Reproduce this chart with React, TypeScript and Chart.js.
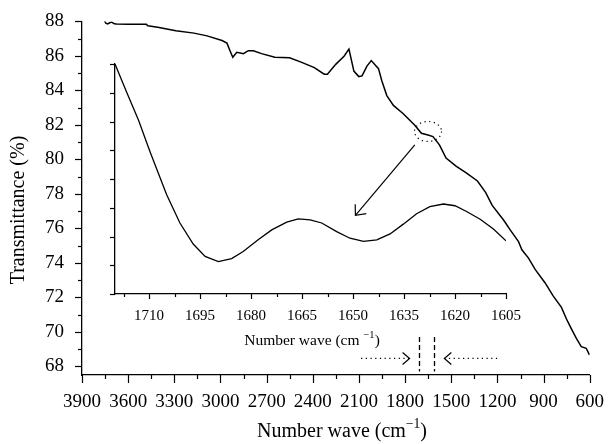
import React, { useEffect, useRef } from 'react';
import { Chart, registerables } from 'chart.js';

Chart.register(...registerables);

// Main FTIR spectrum (wave number cm^-1, transmittance %)
const WAVE = [3755, 3745, 3733, 3720, 3707, 3690, 3675, 3600, 3482, 3472, 3408, 3290, 3172, 3087, 2990, 2958, 2936, 2920, 2894, 2872, 2851, 2819, 2786, 2733, 2647, 2551, 2476, 2390, 2326, 2305, 2251, 2197, 2165, 2133, 2101, 2080, 2048, 2020, 1973, 1951, 1919, 1876, 1812, 1737, 1694, 1651, 1619, 1577, 1534, 1469, 1405, 1330, 1277, 1234, 1159, 1116, 1063, 1041, 998, 955, 891, 838, 784, 752, 720, 687, 655, 623, 602];
const TRANS = [88.05, 87.9, 87.85, 87.92, 87.96, 87.86, 87.85, 87.84, 87.83, 87.75, 87.66, 87.46, 87.32, 87.16, 86.89, 86.74, 86.26, 85.92, 86.21, 86.17, 86.13, 86.3, 86.3, 86.13, 85.92, 85.89, 85.64, 85.32, 84.94, 84.94, 85.51, 85.98, 86.4, 85.12, 84.8, 84.84, 85.41, 85.73, 85.26, 84.55, 83.7, 83.13, 82.65, 81.98, 81.51, 81.41, 81.32, 80.84, 80.08, 79.61, 79.23, 78.75, 78.09, 77.33, 76.47, 75.9, 75.23, 74.76, 74.28, 73.62, 72.85, 72.09, 71.42, 70.76, 70.19, 69.62, 69.14, 69.05, 68.67];

// Inset (zoomed region 1720–1605 cm^-1, unlabeled intensity scale)
const INSET_WAVE = [1720, 1716.6, 1713.1, 1709.7, 1704.8, 1700.9, 1697.0, 1693.5, 1689.6, 1685.7, 1682.3, 1677.9, 1673.9, 1669.5, 1666.1, 1662.6, 1659.2, 1654.8, 1650.9, 1646.9, 1643.0, 1639.1, 1635.2, 1631.3, 1627.4, 1623.4, 1620.0, 1616.6, 1612.6, 1608.7, 1605];
const INSET_VAL = [8.0, 7.03, 6.05, 4.95, 3.45, 2.47, 1.74, 1.31, 1.13, 1.23, 1.48, 1.89, 2.23, 2.5, 2.61, 2.58, 2.47, 2.17, 1.94, 1.83, 1.88, 2.09, 2.43, 2.79, 3.04, 3.13, 3.07, 2.87, 2.6, 2.26, 1.85];

const X_TICKS = [3900, 3600, 3300, 3000, 2700, 2400, 2100, 1800, 1500, 1200, 900, 600];
const Y_TICKS = [68, 70, 72, 74, 76, 78, 80, 82, 84, 86, 88];
const INSET_X_TICKS = [1710, 1695, 1680, 1665, 1650, 1635, 1620, 1605];
const INSET_Y_TICKS = [0, 1, 2, 3, 4, 5, 6, 7, 8];

// Annotation anchors (data coordinates)
const ZOOM_BOUNDS = [1710, 1615];
const CIRCLE_AT = [1651, 81.62];
const ARROW_FROM = [1737, 80.84];
const ARROW_TO = [2123, 76.76];
const LEFT_DOTS = [2086, 1771];
const RIGHT_DOTS = [1202, 1545];
const DOTS_T = 68.46;
const BOUND_T = [69.7, 67.7];

const FONT = '"Liberation Serif", "Times New Roman", serif';

function drawSupText(ctx: CanvasRenderingContext2D, parts: [string, boolean][], cx: number, cy: number, size: number) {
  const supSize = size * 0.68;
  let total = 0;
  const widths: number[] = [];
  for (const [t, sup] of parts) {
    ctx.font = `${sup ? supSize : size}px ${FONT}`;
    const w = ctx.measureText(t).width;
    widths.push(w);
    total += w;
  }
  let x = cx - total / 2;
  ctx.textBaseline = 'middle';
  ctx.textAlign = 'left';
  parts.forEach(([t, sup], i) => {
    ctx.font = `${sup ? supSize : size}px ${FONT}`;
    ctx.fillText(t, x, sup ? cy - size * 0.33 : cy);
    x += widths[i];
  });
}

function tickPlugin(id: string, xMajor: number, xMinor: number, yMajor: number, yMinor: number, xMinorStep: number, yMinorStep: number) {
  return {
    id,
    afterDraw(chart: any) {
      const { ctx, chartArea } = chart;
      const xs = chart.scales.x;
      const ys = chart.scales.y;
      ctx.save();
      ctx.strokeStyle = '#000';
      ctx.lineWidth = 1.2;
      const xmin = xs.min, xmax = xs.max;
      for (let v = Math.ceil(xmin / xMinorStep) * xMinorStep; v <= xmax + 1e-6; v += xMinorStep) {
        const major = xs.ticks.some((t: any) => Math.abs(t.value - v) < 1e-6);
        const px = Math.round(xs.getPixelForValue(v)) + 0.5;
        ctx.beginPath();
        ctx.moveTo(px, chartArea.bottom);
        ctx.lineTo(px, chartArea.bottom + (major ? xMajor : xMinor));
        ctx.stroke();
      }
      if (yMinorStep > 0) {
        const ymin = ys.min, ymax = ys.max;
        for (let v = Math.ceil(ymin / yMinorStep) * yMinorStep; v <= ymax + 1e-6; v += yMinorStep) {
          const major = ys.ticks.some((t: any) => Math.abs(t.value - v) < 1e-6);
          const py = Math.round(ys.getPixelForValue(v)) + 0.5;
          ctx.beginPath();
          ctx.moveTo(chartArea.left, py);
          ctx.lineTo(chartArea.left - (major ? yMajor : yMinor), py);
          ctx.stroke();
        }
      }
      ctx.restore();
    },
  };
}

const mainAnnotations = {
  id: 'mainAnnotations',
  afterDraw(chart: any) {
    const { ctx } = chart;
    const xs = chart.scales.x;
    const ys = chart.scales.y;
    const px = (v: number) => xs.getPixelForValue(v);
    const py = (v: number) => ys.getPixelForValue(v);
    ctx.save();
    ctx.fillStyle = '#000';
    ctx.strokeStyle = '#000';
    // axis titles
    drawSupText(ctx, [['Number wave (cm', false], ['\u22121', true], [')', false]], 342, 431.5, 20);
    ctx.save();
    ctx.translate(19, 210);
    ctx.rotate(-Math.PI / 2);
    ctx.font = `20px ${FONT}`;
    ctx.textAlign = 'center';
    ctx.textBaseline = 'middle';
    ctx.fillText('Transmittance (%)', 0, 0);
    ctx.restore();

    // dotted ellipse
    ctx.lineWidth = 1.2;
    ctx.setLineDash([1.2, 3.5]);
    ctx.beginPath();
    ctx.ellipse(px(CIRCLE_AT[0]), py(CIRCLE_AT[1]), 13.5, 10, 0, 0, Math.PI * 2);
    ctx.stroke();
    ctx.setLineDash([]);

    // arrow to inset
    const ax0 = px(ARROW_FROM[0]), ay0 = py(ARROW_FROM[1]);
    const ax1 = px(ARROW_TO[0]), ay1 = py(ARROW_TO[1]);
    ctx.lineWidth = 1.2;
    ctx.beginPath();
    ctx.moveTo(ax0, ay0);
    ctx.lineTo(ax1, ay1);
    ctx.stroke();
    const ang = Math.atan2(ay0 - ay1, ax0 - ax1);
    const hl = 11;
    ctx.beginPath();
    ctx.moveTo(ax1 + hl * Math.cos(ang - 0.72), ay1 + hl * Math.sin(ang - 0.72));
    ctx.lineTo(ax1, ay1);
    ctx.lineTo(ax1 + hl * Math.cos(ang + 0.72), ay1 + hl * Math.sin(ang + 0.72));
    ctx.stroke();

    // dotted arrows
    const dy = py(DOTS_T);
    const drawDotArrow = (from: number, to: number) => {
      const x0 = px(from), x1 = px(to);
      ctx.setLineDash([1.2, 3.5]);
      ctx.beginPath();
      ctx.moveTo(x0, dy);
      ctx.lineTo(x1, dy);
      ctx.stroke();
      ctx.setLineDash([]);
      const dir = Math.sign(x1 - x0);
      ctx.beginPath();
      ctx.moveTo(x1 - dir * 7, dy - 6);
      ctx.lineTo(x1, dy);
      ctx.lineTo(x1 - dir * 7, dy + 6);
      ctx.stroke();
    };
    drawDotArrow(LEFT_DOTS[0], LEFT_DOTS[1]);
    drawDotArrow(RIGHT_DOTS[0], RIGHT_DOTS[1]);

    // dashed zoom bounds
    ctx.setLineDash([5, 3]);
    ctx.lineWidth = 1.3;
    for (const b of ZOOM_BOUNDS) {
      const x = Math.round(px(b)) + 0.5;
      ctx.beginPath();
      ctx.moveTo(x, py(BOUND_T[0]));
      ctx.lineTo(x, py(BOUND_T[1]));
      ctx.stroke();
    }
    ctx.restore();
  },
};

const insetTitle = {
  id: 'insetTitle',
  afterDraw(chart: any) {
    const { ctx } = chart;
    ctx.save();
    ctx.fillStyle = '#000';
    drawSupText(ctx, [['Number wave (cm ', false], ['\u22121', true], [')', false]], 312, 340.5, 15.5);
    ctx.restore();
  },
};

const plainLabel = (v: any) => String(v);

export default function App() {
  const mainRef = useRef<HTMLCanvasElement | null>(null);
  const insetRef = useRef<HTMLCanvasElement | null>(null);

  useEffect(() => {
    if (!mainRef.current || !insetRef.current) return;
    const main = new Chart(mainRef.current, {
      type: 'scatter',
      data: {
        datasets: [
          {
            data: WAVE.map((w, i) => ({ x: w, y: TRANS[i] })),
            showLine: true,
            borderColor: '#000',
            borderWidth: 1.5,
            pointRadius: 0,
            tension: 0,
          },
        ],
      },
      options: {
        responsive: false,
        animation: false,
        layout: { padding: { top: 16, right: 17, left: 0, bottom: 0 } },
        plugins: { legend: { display: false }, tooltip: { enabled: false } },
        scales: {
          x: {
            type: 'linear',
            min: 600,
            max: 3900,
            reverse: true,
            grid: { display: false, drawTicks: true, tickLength: 8 },
            border: { display: true, color: '#000', width: 1.3 },
            ticks: { color: '#000', font: { family: FONT, size: 19 }, padding: 8, maxRotation: 0, autoSkip: false, callback: plainLabel },
            afterBuildTicks: (s: any) => { s.ticks = X_TICKS.map((v) => ({ value: v })); },
            afterFit: (s: any) => { s.height = 69; },
          },
          y: {
            type: 'linear',
            min: 67.5,
            max: 88,
            grid: { display: false, drawTicks: true, tickLength: 8 },
            border: { display: true, color: '#000', width: 1.3 },
            ticks: { color: '#000', font: { family: FONT, size: 19 }, padding: 10, autoSkip: false, callback: plainLabel },
            afterBuildTicks: (s: any) => { s.ticks = Y_TICKS.map((v) => ({ value: v })); },
            afterFit: (s: any) => { s.width = 82; },
          },
        },
      },
      plugins: [tickPlugin('mainTicks', 8, 4, 7, 4, 150, 1), mainAnnotations],
    } as any);

    const inset = new Chart(insetRef.current, {
      type: 'scatter',
      data: {
        datasets: [
          {
            data: INSET_WAVE.map((w, i) => ({ x: w, y: INSET_VAL[i] })),
            showLine: true,
            borderColor: '#000',
            borderWidth: 1.3,
            pointRadius: 0,
            tension: 0,
          },
        ],
      },
      options: {
        responsive: false,
        animation: false,
        layout: { padding: { top: 64, right: 106, left: 0, bottom: 94 } },
        plugins: { legend: { display: false }, tooltip: { enabled: false } },
        scales: {
          x: {
            type: 'linear',
            min: 1605,
            max: 1720,
            reverse: true,
            grid: { display: false, drawTicks: true, tickLength: 5 },
            border: { display: true, color: '#000', width: 1.3 },
            ticks: { color: '#000', font: { family: FONT, size: 15 }, padding: 8, maxRotation: 0, autoSkip: false, callback: plainLabel },
            afterBuildTicks: (s: any) => { s.ticks = INSET_X_TICKS.map((v) => ({ value: v })); },
            afterFit: (s: any) => { s.height = 56; },
          },
          y: {
            type: 'linear',
            min: 0,
            max: 8,
            grid: { display: false, drawTicks: true, tickLength: 5 },
            border: { display: true, color: '#000', width: 1.3 },
            ticks: { display: false },
            afterBuildTicks: (s: any) => { s.ticks = INSET_Y_TICKS.map((v) => ({ value: v })); },
            afterFit: (s: any) => { s.width = 115; },
          },
        },
      },
      plugins: [tickPlugin('insetTicks', 5, 3, 5, 5, 7.5, 1), insetTitle],
    } as any);

    return () => {
      main.destroy();
      inset.destroy();
    };
  }, []);

  return (
    <div style={{ position: 'absolute', left: 0, top: 0, width: 612, height: 444, background: '#fff' }}>
      <canvas ref={mainRef} width={612} height={444} style={{ position: 'absolute', left: 0, top: 0 }} />
      <canvas ref={insetRef} width={612} height={444} style={{ position: 'absolute', left: 0, top: 0 }} />
    </div>
  );
}
